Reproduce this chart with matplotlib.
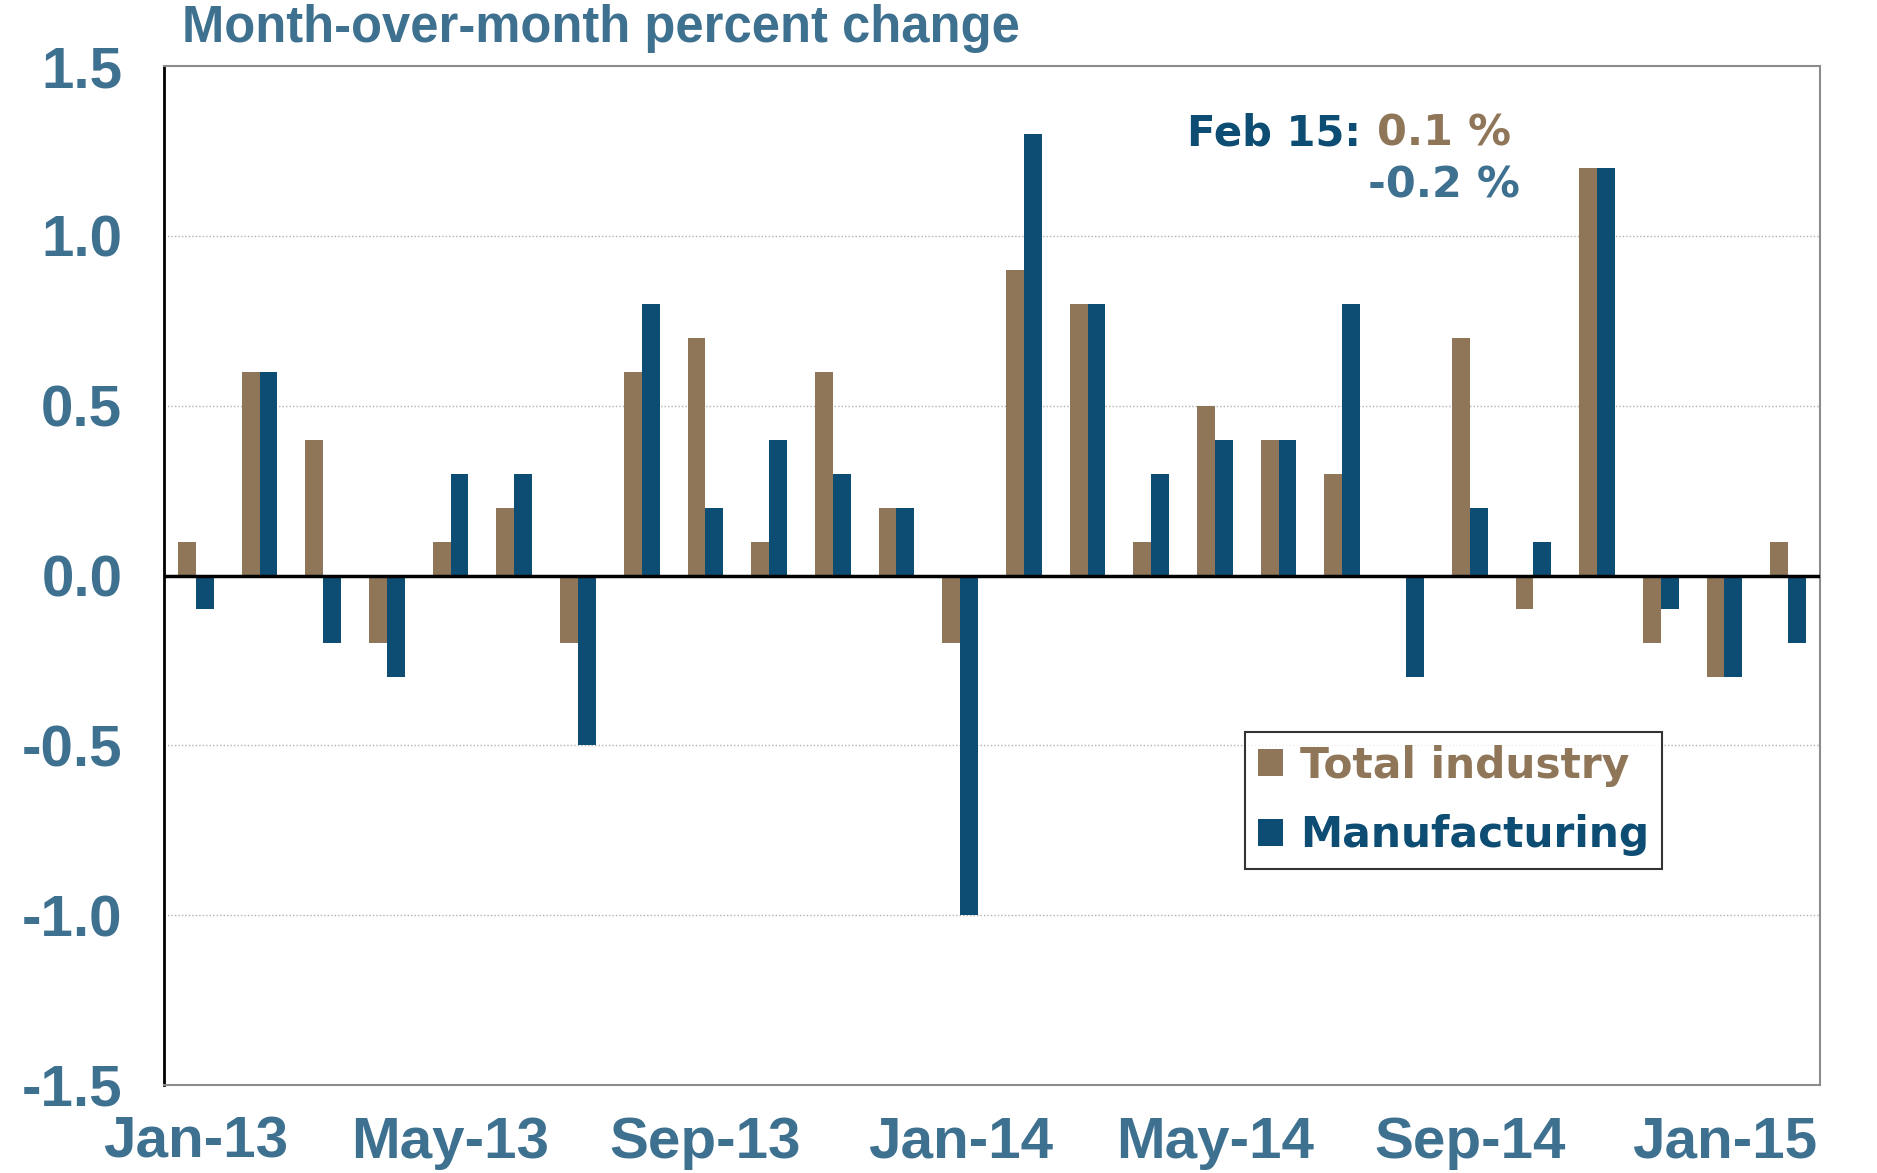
import numpy as np
import matplotlib.pyplot as plt

# monthly data, Jan-13 .. Feb-15
months = ["Jan-13", "Feb-13", "Mar-13", "Apr-13", "May-13", "Jun-13", "Jul-13",
          "Aug-13", "Sep-13", "Oct-13", "Nov-13", "Dec-13", "Jan-14", "Feb-14",
          "Mar-14", "Apr-14", "May-14", "Jun-14", "Jul-14", "Aug-14", "Sep-14",
          "Oct-14", "Nov-14", "Dec-14", "Jan-15", "Feb-15"]
total_industry = [0.1, 0.6, 0.4, -0.2, 0.1, 0.2, -0.2, 0.6, 0.7, 0.1, 0.6, 0.2, -0.2,
                  0.9, 0.8, 0.1, 0.5, 0.4, 0.3, 0.0, 0.7, -0.1, 1.2, -0.2, -0.3, 0.1]
manufacturing = [-0.1, 0.6, -0.2, -0.3, 0.3, 0.3, -0.5, 0.8, 0.2, 0.4, 0.3, 0.2, -1.0,
                 1.3, 0.8, 0.3, 0.4, 0.4, 0.8, -0.3, 0.2, 0.1, 1.2, -0.1, -0.3, -0.2]
yticks = [-1.5, -1.0, -0.5, 0.0, 0.5, 1.0, 1.5]

TAN = "#8f7658"
BLUE = "#0d4c73"
LABEL = "#3e7090"

W, H = 1877, 1173
fig = plt.figure(figsize=(W / 100, H / 100), dpi=100)
ax = fig.add_axes([164 / W, 1 - 1085 / H, (1820 - 164) / W, (1085 - 66) / H])

x = np.arange(len(months))
bw = 0.28
ax.bar(x - bw / 2, total_industry, bw, color=TAN, label="Total industry", zorder=2)
ax.bar(x + bw / 2, manufacturing, bw, color=BLUE, label="Manufacturing", zorder=2)

ax.set_xlim(-0.5, len(months) - 0.5)
ax.set_ylim(-1.5, 1.5)
ax.set_yticks(yticks)
ax.set_yticklabels(["%.1f" % v for v in yticks])
ax.set_xticks(x[::4])
ax.set_xticklabels(months[::4])

for v in [-1.0, -0.5, 0.5, 1.0]:
    ax.axhline(v, color="#b0b0b0", lw=1, ls=(0, (1, 1.5)), zorder=1)
ax.axhline(0, color="black", lw=2.5, zorder=3)

ax.spines["left"].set_color("black")
ax.spines["left"].set_linewidth(2)
for s in ["top", "right", "bottom"]:
    ax.spines[s].set_color("#8c8c8c")
    ax.spines[s].set_linewidth(1.5)

tick_font = {"family": ["Liberation Sans", "DejaVu Sans"], "weight": "bold", "size": 42}
ax.tick_params(length=0)
ax.tick_params(axis="y", pad=30)
ax.tick_params(axis="x", pad=22)
for lab in ax.get_xticklabels() + ax.get_yticklabels():
    lab.set_fontproperties(tick_font)
    lab.set_color(LABEL)

fig.text(182 / W, 1 - 42 / H, "Month-over-month percent change", color=LABEL,
         family=["Liberation Sans", "DejaVu Sans"], weight="bold", size=36.5, va="baseline")

ann = {"family": "DejaVu Sans", "weight": "bold", "size": 30, "va": "baseline"}
fig.text(1187 / W, 1 - 145 / H, "Feb 15:", color=BLUE, ha="left", **ann)
fig.text(1377 / W, 1 - 145 / H, "0.1 %", color=TAN, ha="left", size=31,
         family="DejaVu Sans", weight="bold", va="baseline")
fig.text(1368 / W, 1 - 197 / H, "-0.2 %", color=LABEL, ha="left", size=31,
         family="DejaVu Sans", weight="bold", va="baseline")

leg = ax.legend(loc="upper left", bbox_to_anchor=((1245 - 164) / (1820 - 164), 1 - (732 - 66) / (1085 - 66)),
                prop={"family": "DejaVu Sans", "weight": "bold", "size": 30.5},
                frameon=True, fancybox=False, edgecolor="black", handlelength=0.6,
                handleheight=0.6, handletextpad=0.4, borderpad=0.3, labelspacing=0.65,
                borderaxespad=0)
leg.get_frame().set_linewidth(1.5)
for txt, c in zip(leg.get_texts(), [TAN, BLUE]):
    txt.set_color(c)

fig.savefig("out.png", dpi=100)
